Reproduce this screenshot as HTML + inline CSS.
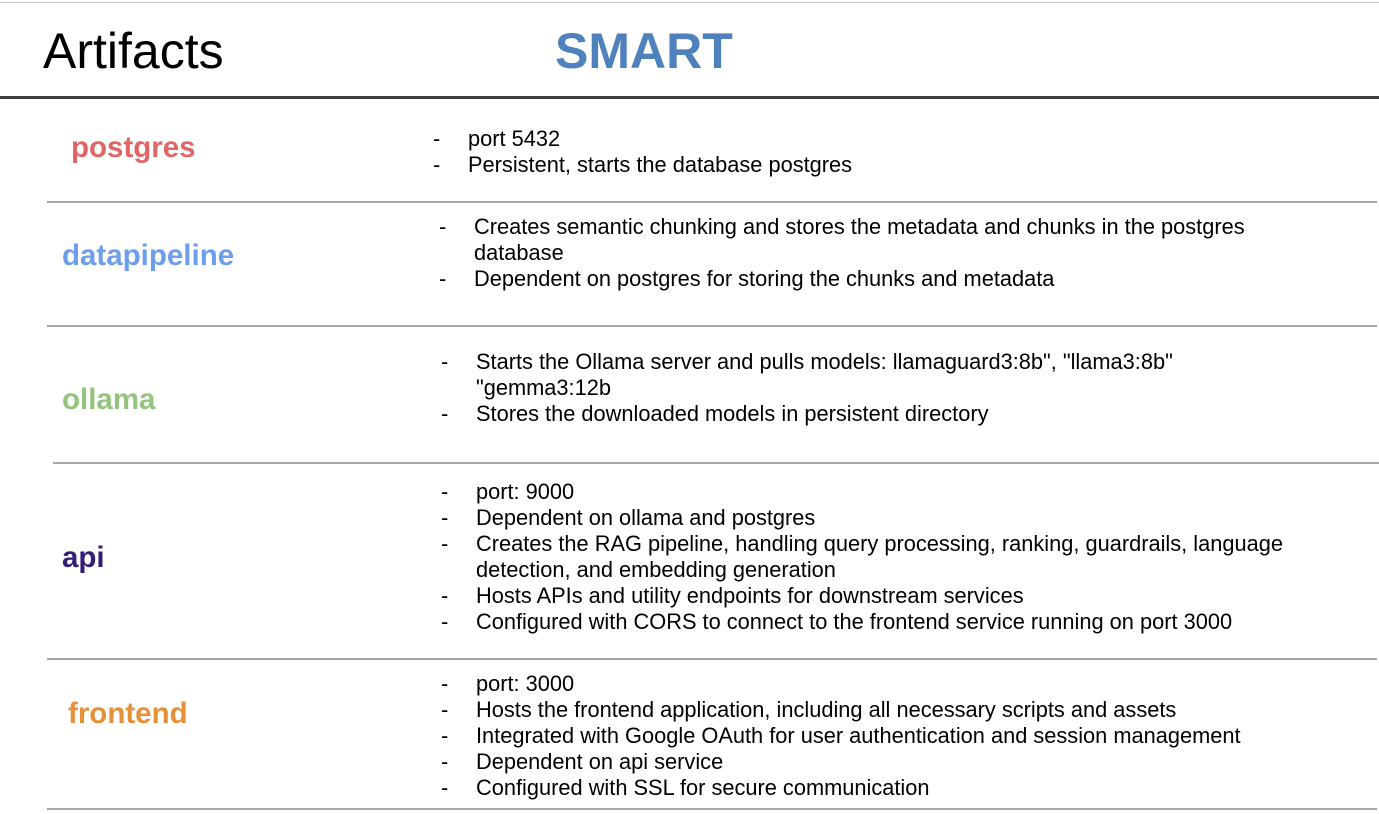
<!DOCTYPE html>
<html><head><meta charset="utf-8"><style>
body{margin:0;width:1379px;height:814px;background:#fff;position:relative;overflow:hidden;font-family:"Liberation Sans",sans-serif;}
.a{position:absolute;white-space:nowrap;}
.l{position:absolute;height:2px;background:#a6a6a6;}
.t{font-size:21.8px;line-height:26px;color:#000;}
.k{font-weight:bold;font-size:29.5px;line-height:34px;}
</style></head><body>
<div class="l" style="top:2px;left:0;width:1379px;height:1px;background:#c8c8c8"></div>
<div class="a" style="left:43px;top:21px;font-size:50px;line-height:60px">Artifacts</div>
<div class="a" style="left:555px;top:21px;font-size:50px;line-height:60px;font-weight:bold;color:#4f81bd">SMART</div>
<div class="l" style="top:96px;left:0;width:1379px;height:3px;background:#404040"></div>
<div class="l" style="top:201px;left:47px;width:1330px"></div>
<div class="l" style="top:325px;left:47px;width:1330px"></div>
<div class="l" style="top:462px;left:53px;width:1326px"></div>
<div class="l" style="top:658px;left:47px;width:1330px"></div>
<div class="l" style="top:808px;left:47px;width:1330px"></div>

<div class="a k" style="left:71px;top:131px;color:#e06666">postgres</div>
<div class="a k" style="left:62px;top:239px;color:#6d9eeb">datapipeline</div>
<div class="a k" style="left:62px;top:383px;color:#93c47d">ollama</div>
<div class="a k" style="left:62px;top:541px;color:#351c75">api</div>
<div class="a k" style="left:68px;top:697px;color:#e69138">frontend</div>

<div class="a t" style="left:433px;top:126px">-<br>-</div>
<div class="a t" style="left:468px;top:126px">port 5432<br>Persistent, starts the database postgres</div>

<div class="a t" style="left:439px;top:214px">-<br><br>-</div>
<div class="a t" style="left:474px;top:214px">Creates semantic chunking and stores the metadata and chunks in the postgres<br>database<br>Dependent on postgres for storing the chunks and metadata</div>

<div class="a t" style="left:441px;top:349px">-<br><br>-</div>
<div class="a t" style="left:476px;top:349px">Starts the Ollama server and pulls models: llamaguard3:8b", "llama3:8b"<br>"gemma3:12b<br>Stores the downloaded models in persistent directory</div>

<div class="a t" style="left:441px;top:479px">-<br>-<br>-<br><br>-<br>-</div>
<div class="a t" style="left:476px;top:479px">port: 9000<br>Dependent on ollama and postgres<br>Creates the RAG pipeline, handling query processing, ranking, guardrails, language<br>detection, and embedding generation<br>Hosts APIs and utility endpoints for downstream services<br>Configured with CORS to connect to the frontend service running on port 3000</div>

<div class="a t" style="left:441px;top:671px">-<br>-<br>-<br>-<br>-</div>
<div class="a t" style="left:476px;top:671px">port: 3000<br>Hosts the frontend application, including all necessary scripts and assets<br>Integrated with Google OAuth for user authentication and session management<br>Dependent on api service<br>Configured with SSL for secure communication</div>
</body></html>
